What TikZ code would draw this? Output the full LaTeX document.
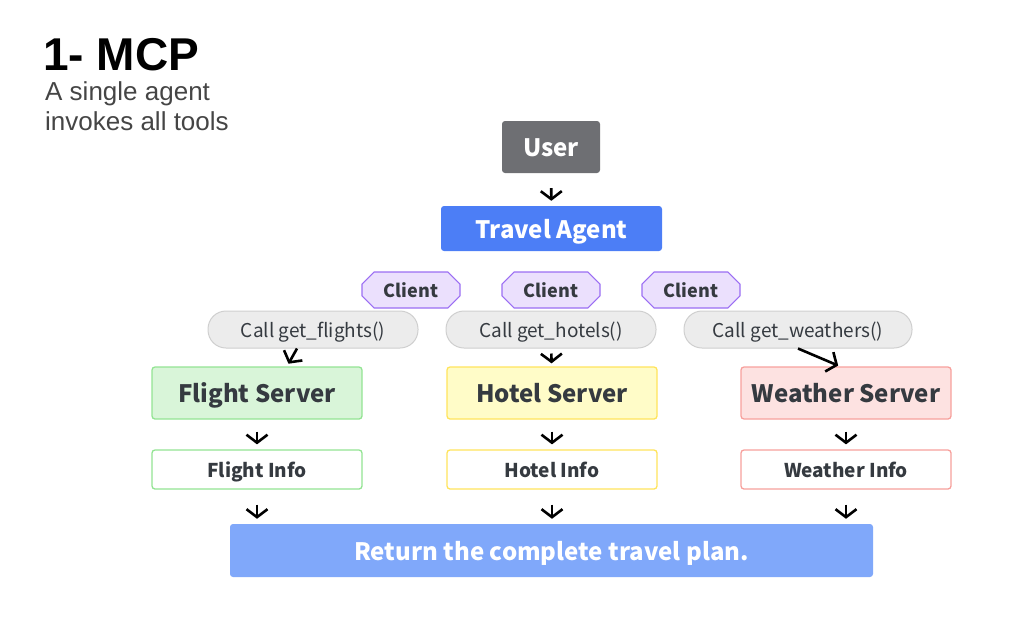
\documentclass[tikz,border=0pt]{standalone}
\usepackage{fontspec}
\setmainfont{Noto Sans CJK KR}
\newfontfamily\titlefont{Liberation Sans}
\usetikzlibrary{arrows.meta,shapes.misc}

\definecolor{txtdark}{HTML}{353A40}
\definecolor{subgray}{HTML}{454545}
\definecolor{usergray}{HTML}{6E6F73}
\definecolor{agentblue}{HTML}{4C7EF6}
\definecolor{planblue}{HTML}{80A8FA}
\definecolor{clientfill}{HTML}{EBE0FD}
\definecolor{clientline}{HTML}{9B6EF3}
\definecolor{pillfill}{HTML}{ECECEC}
\definecolor{pillline}{HTML}{CFCFCF}
\definecolor{flightfill}{HTML}{D9F5D9}
\definecolor{flightline}{HTML}{93E493}
\definecolor{hotelfill}{HTML}{FFFCC8}
\definecolor{hotelline}{HTML}{FFE45C}
\definecolor{weatherfill}{HTML}{FDE2E1}
\definecolor{weatherline}{HTML}{F7A09C}

\tikzset{
  lowbig/.style={text height=20pt,text depth=1pt},
  lowsmall/.style={text height=16pt,text depth=1pt},
  solidbox/.style={rectangle,rounded corners=3pt,text=white,font=\fontsize{24}{26}\selectfont\bfseries,inner sep=0pt,lowbig},
  clientbox/.style={chamfered rectangle,chamfered rectangle xsep=11pt,draw=clientline,fill=clientfill,line width=1.2pt,
    minimum width=98pt,minimum height=36pt,inner sep=0pt,text=txtdark,font=\fontsize{18}{20}\selectfont\bfseries,lowsmall},
  callbox/.style={rectangle,rounded corners=18pt,draw=pillline,fill=pillfill,line width=1pt,
    minimum height=37pt,inner sep=0pt,text=txtdark,font=\fontsize{19}{21}\selectfont,lowsmall},
  serverbox/.style={rectangle,rounded corners=3pt,line width=1.3pt,minimum width=210pt,minimum height=52pt,
    inner sep=0pt,text=txtdark,font=\fontsize{24}{26}\selectfont\bfseries,lowbig},
  infobox/.style={rectangle,rounded corners=3pt,line width=1.3pt,fill=white,minimum width=210pt,minimum height=39pt,
    inner sep=0pt,text=txtdark,font=\fontsize{19}{21}\selectfont\bfseries,lowsmall},
  tip/.style={-{Straight Barb[length=8pt,width=21pt]},line width=2.6pt,black},
}

\begin{document}
\begin{tikzpicture}[x=1pt,y=-1pt]
  \useasboundingbox (0,0) rectangle (1012,627);

  % heading
  \node (title) [anchor=west,inner sep=0pt,font=\titlefont\fontsize{46}{50}\selectfont\bfseries] at (43,55) {1- MCP};
  \node (subtitle) [anchor=north west,inner sep=0pt,align=left,font=\titlefont\fontsize{26}{30}\selectfont,text=subgray] at (45,81)
    {A single agent\\invokes all tools};

  % top of the flow
  \node (user) [solidbox,fill=usergray,minimum width=98pt,minimum height=52pt] at (551,147) {User};
  \node (agent) [solidbox,fill=agentblue,minimum width=221pt,minimum height=45pt] at (551.5,228.5) {Travel Agent};

  % clients
  \node (clientf) [clientbox] at (411,290) {Client};
  \node (clienth) [clientbox] at (551,290) {Client};
  \node (clientw) [clientbox] at (691,290) {Client};

  % tool calls
  \node (callf) [callbox,minimum width=210pt] at (313,329.5) {Call get\_flights()};
  \node (callh) [callbox,minimum width=210pt] at (551,329.5) {Call get\_hotels()};
  \node (callw) [callbox,minimum width=228pt] at (798,329.5) {Call get\_weathers()};

  % servers
  \node (flight) [serverbox,draw=flightline,fill=flightfill] at (257,393) {Flight Server};
  \node (hotel) [serverbox,draw=hotelline,fill=hotelfill] at (552,393) {Hotel Server};
  \node (weather) [serverbox,draw=weatherline,fill=weatherfill] at (846,393) {Weather Server};

  % results
  \node (flightinfo) [infobox,draw=flightline] at (257,469.5) {Flight Info};
  \node (hotelinfo) [infobox,draw=hotelline] at (552,469.5) {Hotel Info};
  \node (weatherinfo) [infobox,draw=weatherline] at (846,469.5) {Weather Info};

  \node (plan) [solidbox,fill=planblue,minimum width=643pt,minimum height=53pt] at (551.5,550.5) {Return the complete travel plan.};

  % arrows
  \draw[tip,shorten <=15pt,shorten >=5pt] (user) -- (agent);
  \draw[tip,shorten >=3pt] ([xshift=-16pt]callf.south) -- ([xshift=30pt]flight.north);
  \draw[tip,shorten <=5pt,shorten >=3pt] (callh) -- (hotel);
  \draw[tip,shorten >=2pt] (callw.south) -- ([xshift=-6pt]weather.north);
  \foreach \src/\dst in {flight/flightinfo,hotel/hotelinfo,weather/weatherinfo}
    \draw[tip,shorten <=12pt,shorten >=5pt] (\src) -- (\dst);
  \draw[tip,shorten <=15pt,shorten >=5pt] (flightinfo.south) -- (flightinfo.south |- plan.north);
  \draw[tip,shorten <=15pt,shorten >=5pt] (hotelinfo.south) -- (hotelinfo.south |- plan.north);
  \draw[tip,shorten <=15pt,shorten >=5pt] (weatherinfo.south) -- (weatherinfo.south |- plan.north);
\end{tikzpicture}
\end{document}
